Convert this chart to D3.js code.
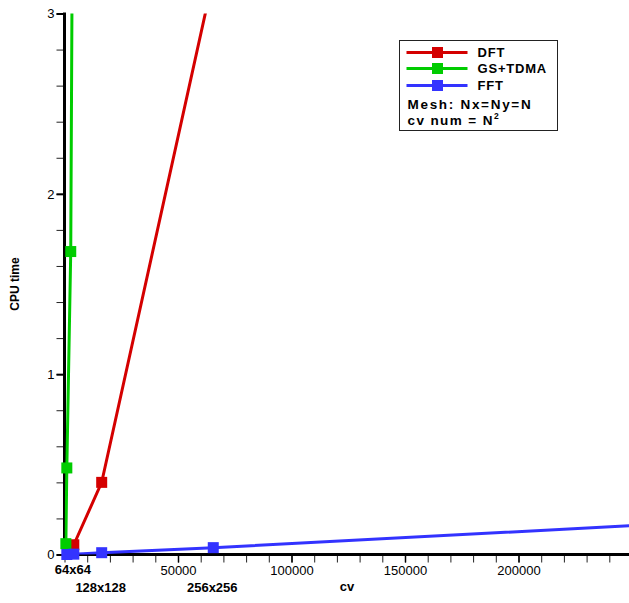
<!DOCTYPE html>
<html>
<head>
<meta charset="utf-8">
<script src="https://cdn.jsdelivr.net/npm/d3@7/dist/d3.min.js"></script>
<style>
  body { margin: 0; background: #fff; }
  svg { display: block; font-family: "Liberation Sans", Arial, sans-serif; }
</style>
</head>
<body>
<svg></svg>
<script>
// data
const seriesNames = ["DFT", "GS+TDMA", "FFT"];
const seriesColors = ["#d40000", "#00cc00", "#3333ff"];
const dftCv = [4096, 16384, 65536];
const dftTime = [0.054, 0.40, 3.2];
const gsCv = [600, 1024, 2750, 4096];
const gsTime = [0.06, 0.48, 1.68, 5.1];
const fftCv = [1024, 4096, 16384, 65536, 262144];
const fftTime = [0.0, 0.002, 0.01, 0.038, 0.168];
const xTickLabels = [50000, 100000, 150000, 200000];
const yTickLabels = [0, 1, 2, 3];
const meshLabels = ["64x64", "128x128", "256x256"];
const meshCv = [4096, 16384, 65536];

const svgSize = { width: 629, height: 603 };
const svg = d3.select("svg")
  .attr("width", svgSize.width)
  .attr("height", svgSize.height);

const x = d3.scaleLinear().domain([0, 250000]).range([64.5, 632]);
const y = d3.scaleLinear().domain([0, 3]).range([554.5, 13.5]);

const series = [
  { cv: dftCv, t: dftTime },
  { cv: gsCv, t: gsTime },
  { cv: fftCv, t: fftTime }
].map((s, i) => ({
  name: seriesNames[i],
  color: seriesColors[i],
  pts: s.cv.map((c, j) => ({ cv: c, t: s.t[j] }))
}));

// clip for lines
svg.append("defs").append("clipPath").attr("id", "plot")
  .append("rect")
  .attr("x", x(0)).attr("y", y(3))
  .attr("width", svgSize.width - x(0)).attr("height", y(0) - y(3));

// y axis minor ticks
svg.append("g")
  .attr("transform", `translate(${x(0)},0)`)
  .call(d3.axisLeft(y).tickValues(y.ticks(15)).tickSize(8).tickFormat(""))
  .call(g => g.select(".domain").remove())
  .call(g => g.selectAll("line").attr("stroke", "#222").attr("stroke-width", 1));

// y axis major
svg.append("g")
  .attr("transform", `translate(${x(0)},0)`)
  .call(d3.axisLeft(y).tickValues(yTickLabels).tickSize(8).tickPadding(2).tickFormat(d3.format("d")))
  .call(g => g.select(".domain").remove())
  .call(g => g.selectAll("line").attr("stroke", "#000").attr("stroke-width", 2))
  .call(g => g.selectAll("text").attr("font-size", 13).attr("fill", "#000")
    .attr("font-family", "Liberation Sans, Arial, sans-serif"));

// x axis minor ticks
svg.append("g")
  .attr("transform", `translate(0,${y(0)})`)
  .call(d3.axisBottom(x).tickValues(x.ticks(25)).tickSize(8).tickFormat(""))
  .call(g => g.select(".domain").remove())
  .call(g => g.selectAll("line").attr("stroke", "#222").attr("stroke-width", 1));

// x axis major
svg.append("g")
  .attr("transform", `translate(0,${y(0)})`)
  .call(d3.axisBottom(x).tickValues(xTickLabels).tickSize(8).tickPadding(3).tickFormat(d3.format("d")))
  .call(g => g.select(".domain").remove())
  .call(g => g.selectAll("line").attr("stroke", "#000").attr("stroke-width", 1.5))
  .call(g => g.selectAll("text").attr("font-size", 13).attr("fill", "#000")
    .attr("font-family", "Liberation Sans, Arial, sans-serif"));

// axis lines
svg.append("line")
  .attr("x1", x(0)).attr("x2", svgSize.width)
  .attr("y1", y(0)).attr("y2", y(0))
  .attr("stroke", "#000").attr("stroke-width", 3);
svg.append("line")
  .attr("x1", x(0)).attr("x2", x(0))
  .attr("y1", y(3) - 1).attr("y2", y(0) + 1.5)
  .attr("stroke", "#000").attr("stroke-width", 3);

// lines and markers
const line = d3.line().x(d => x(d.cv)).y(d => y(d.t));
const msize = 11;

series.forEach(s => {
  svg.append("path")
    .datum(s.pts)
    .attr("clip-path", "url(#plot)")
    .attr("d", line)
    .attr("fill", "none")
    .attr("stroke", s.color)
    .attr("stroke-width", 3);
});
series.forEach(s => {
  svg.append("g").selectAll("rect")
    .data(s.pts.filter(d => d.t <= 3 && d.cv <= 250000))
    .enter().append("rect")
    .attr("x", d => x(d.cv) - msize / 2)
    .attr("y", d => y(d.t) - msize / 2)
    .attr("width", msize).attr("height", msize)
    .attr("fill", s.color);
});

// axis titles
svg.append("text")
  .attr("transform", `translate(19,${(y(0) + y(3)) / 2}) rotate(-90)`)
  .attr("text-anchor", "middle")
  .attr("font-size", 12).attr("font-weight", "bold")
  .text("CPU time");
svg.append("text")
  .attr("x", 347).attr("y", 591)
  .attr("text-anchor", "middle")
  .attr("font-size", 13).attr("font-weight", "bold")
  .text("cv");

// mesh labels
svg.selectAll(".mesh")
  .data(meshLabels)
  .enter().append("text")
  .attr("class", "mesh")
  .attr("x", (d, i) => x(meshCv[i]) - 1)
  .attr("y", (d, i) => i === 0 ? 574 : 591.5)
  .attr("text-anchor", "middle")
  .attr("font-size", 13).attr("font-weight", "bold")
  .text(d => d);

// legend
const legend = svg.append("g").attr("transform", "translate(399.5,40.5)");
legend.append("rect")
  .attr("width", 158).attr("height", 90)
  .attr("fill", "#fff").attr("stroke", "#222").attr("stroke-width", 1);
const rowY = [12, 28, 45];
series.forEach((s, i) => {
  const g = legend.append("g").attr("transform", `translate(0,${rowY[i]})`);
  g.append("line").attr("x1", 7).attr("x2", 68)
    .attr("stroke", s.color).attr("stroke-width", 3);
  g.append("rect").attr("x", 38 - msize / 2).attr("y", -msize / 2)
    .attr("width", msize).attr("height", msize).attr("fill", s.color);
  g.append("text").attr("x", 78).attr("y", 4.5)
    .attr("font-size", 13).attr("font-weight", "bold")
    .attr("letter-spacing", 0.8)
    .text(s.name);
});
legend.append("text").attr("x", 8).attr("y", 68)
  .attr("font-size", 13.5).attr("font-weight", "bold")
  .attr("letter-spacing", 1.7)
  .text("Mesh: Nx=Ny=N");
const cvt = legend.append("text").attr("x", 8).attr("y", 84.5)
  .attr("font-size", 13.5).attr("font-weight", "bold")
  .attr("letter-spacing", 1.4);
cvt.append("tspan").text("cv num = N");
cvt.append("tspan").attr("font-size", 8.5).attr("dy", -6.5).text("2");
</script>
</body>
</html>
